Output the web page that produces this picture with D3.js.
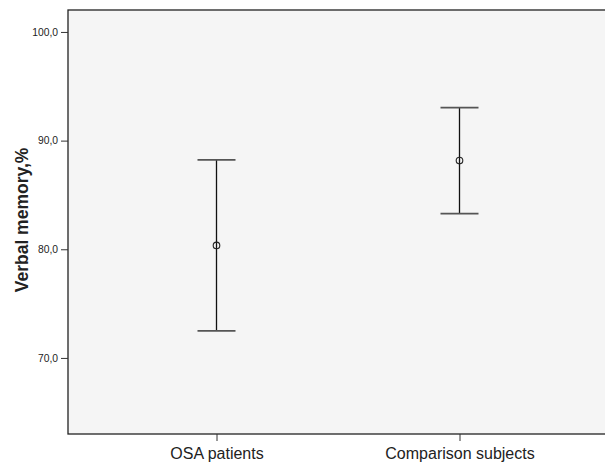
<!DOCTYPE html>
<html><head><meta charset="utf-8">
<script src="https://cdn.jsdelivr.net/npm/d3@7"></script>
<style>body{margin:0;background:#fff}svg{display:block}</style>
</head><body>
<script>
const categories = ["OSA patients", "Comparison subjects"];
const means = [80.35, 88.16];
const lowers = [72.49, 83.28];
const uppers = [88.22, 93.03];
const yTicks = [70, 80, 90, 100];

const W = 605, H = 464;
const mLeft = 68, mTop = 10, mBottom = 434, mRight = 606;
const svg = d3.select("body").append("svg").attr("width", W).attr("height", H);

const y = d3.scaleLinear().domain([63.0, 102.02]).range([mBottom, mTop]);
const x = d3.scalePoint().domain(categories).range([216.5, 459.5]);

svg.append("rect").attr("x", mLeft).attr("y", mTop).attr("width", mRight - mLeft).attr("height", mBottom - mTop)
  .attr("fill", "#f5f5f5").attr("stroke", "#222").attr("stroke-width", 1.3);

const yAxis = svg.append("g").attr("transform", `translate(${mLeft},0)`)
  .call(d3.axisLeft(y).tickValues(yTicks).tickSize(7).tickPadding(3).tickFormat(d => d3.format(".1f")(d).replace(".", ",")));
yAxis.select(".domain").remove();
yAxis.selectAll("line").attr("stroke", "#333");
yAxis.selectAll("text").attr("font-family", "Arial, Liberation Sans, sans-serif").attr("font-size", 10.3).attr("fill", "#222");

const xAxis = svg.append("g").attr("transform", `translate(0,${mBottom})`)
  .call(d3.axisBottom(x).tickSize(7));
xAxis.select(".domain").remove();
xAxis.selectAll("line").attr("stroke", "#333");
xAxis.selectAll("text").attr("font-family", "Arial, Liberation Sans, sans-serif").attr("font-size", 16).attr("fill", "#222").attr("dy", "0.95em");

svg.append("text").attr("transform", `translate(28,220) rotate(-90)`)
  .attr("text-anchor", "middle").attr("font-family", "Arial, Liberation Sans, sans-serif")
  .attr("font-size", 17.5).attr("font-weight", "bold").attr("fill", "#222").text("Verbal memory,%");

const g = svg.append("g");
categories.forEach((c, i) => {
  const cx = x(c);
  g.append("line").attr("x1", cx).attr("x2", cx).attr("y1", y(uppers[i])).attr("y2", y(lowers[i]))
    .attr("stroke", "#111").attr("stroke-width", 1.3);
  [uppers[i], lowers[i]].forEach(v => {
    g.append("line").attr("x1", cx - 19).attr("x2", cx + 19).attr("y1", y(v)).attr("y2", y(v))
      .attr("stroke", "#555").attr("stroke-width", 1.8);
  });
  g.append("circle").attr("cx", cx).attr("cy", y(means[i])).attr("r", 3.3)
    .attr("fill", "none").attr("stroke", "#222").attr("stroke-width", 1.1);
});
</script>
</body></html>
